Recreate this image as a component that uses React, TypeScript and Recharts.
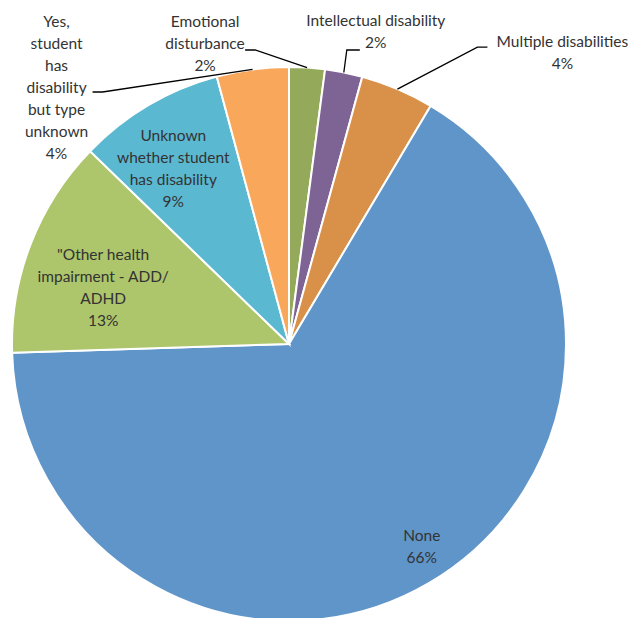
import { PieChart, Pie, Cell } from "recharts";

// Disability status of students, share of respondents (%)
const categories = [
  "Emotional disturbance",
  "Intellectual disability",
  "Multiple disabilities",
  "None",
  "\"Other health impairment - ADD/ ADHD",
  "Unknown whether student has disability",
  "Yes, student has disability but type unknown",
];
const shares = [2.08, 2.18, 4.28, 65.96, 12.75, 8.55, 4.2];

// how each category label is wrapped in the picture
const labelLines = [
  ["Emotional", "disturbance"],
  ["Intellectual disability"],
  ["Multiple disabilities"],
  ["None"],
  ["\"Other health", "impairment - ADD/", "ADHD"],
  ["Unknown", "whether student", "has disability"],
  ["Yes,", "student", "has", "disability", "but type", "unknown"],
];

const colors = ["#94aa5a", "#7e6494", "#d9914a", "#5f95c9", "#adc56b", "#5bb8d1", "#f9a75a"];

const data = categories.map((name, i) => ({ name, value: shares[i] }));

// label placement (inside labels: radius factor + nudge; outside: leader line offsets from arc point)
type Place =
  | { inside: true; k: number; dx: number; dy: number }
  | { inside: false; ex: number; ey: number; hx: number; tx: number; ty: number };
const places: Place[] = [
  { inside: false, ex: -52, ey: -17.6, hx: -10, tx: -102, ty: -24.6 },
  { inside: false, ex: 3, ey: -22.5, hx: 13, tx: 32, ty: -41.5 },
  { inside: false, ex: 80, ey: -42, hx: 10, tx: 165, ty: -37 },
  { inside: true, k: 0.88, dx: 9, dy: -7.5 },
  { inside: true, k: 0.7, dx: -5, dy: 13 },
  { inside: true, k: 0.78, dx: -6, dy: 10 },
  { inside: false, ex: -150, ey: 22.6, hx: -10, tx: -196, ty: 18 },
];

const LINE_H = 22;
const RAD = Math.PI / 180;

const renderLabel = (props: any) => {
  const { cx, cy, midAngle, outerRadius, index } = props;
  const p = places[index];
  const lines = [...labelLines[index], `${Math.round(shares[index])}%`];
  const cos = Math.cos(-midAngle * RAD);
  const sin = Math.sin(-midAngle * RAD);
  let tx: number;
  let ty: number;
  let leader = null;
  if (p.inside) {
    tx = cx + outerRadius * p.k * cos + p.dx;
    ty = cy + outerRadius * p.k * sin + p.dy;
  } else {
    const px = cx + outerRadius * cos;
    const py = cy + outerRadius * sin;
    const ex = px + p.ex;
    const ey = py + p.ey;
    leader = (
      <polyline
        points={`${px},${py} ${ex},${ey} ${ex + p.hx},${ey}`}
        fill="none"
        stroke="#000"
        strokeWidth={1.3}
      />
    );
    tx = px + p.tx;
    ty = py + p.ty;
  }
  const top = ty - ((lines.length - 1) * LINE_H) / 2;
  return (
    <g key={`lbl-${index}`}>
      {leader}
      <text
        x={tx}
        y={top}
        textAnchor="middle"
        dominantBaseline="central"
        fill="#333333"
        fontSize={15.5}
        fontFamily="Lato, 'Open Sans', sans-serif"
      >
        {lines.map((l, i) => (
          <tspan key={i} x={tx} y={top + i * LINE_H} fill="#333333">
            {l}
          </tspan>
        ))}
      </text>
    </g>
  );
};

export default function App() {
  return (
    <div style={{ position: "absolute", left: 0, top: 0, width: 630, height: 618, background: "#fff" }}>
      <PieChart width={630} height={618} margin={{ top: 0, right: 0, bottom: 0, left: 0 }}>
        <Pie
          data={data}
          dataKey="value"
          nameKey="name"
          cx={289}
          cy={344}
          outerRadius={277}
          startAngle={90}
          endAngle={-270}
          stroke="#fff"
          strokeWidth={2}
          label={renderLabel}
          labelLine={false}
          isAnimationActive={false}
        >
          {data.map((d, i) => (
            <Cell key={d.name} fill={colors[i]} />
          ))}
        </Pie>
      </PieChart>
    </div>
  );
}
